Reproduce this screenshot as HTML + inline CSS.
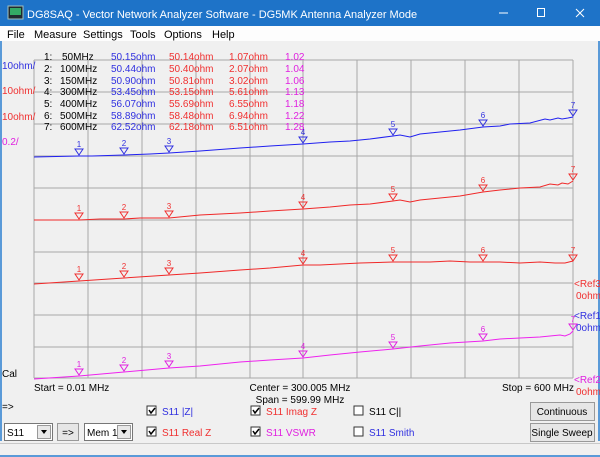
<!DOCTYPE html>
<html><head><meta charset="utf-8"><style>
body{margin:0;width:600px;height:457px;overflow:hidden;background:#f0f0f0;font-family:"Liberation Sans",sans-serif}
svg{display:block}
text{font-family:"Liberation Sans",sans-serif}
</style></head><body>
<svg width="600" height="457" viewBox="0 0 600 457" xmlns="http://www.w3.org/2000/svg">
<rect x="0" y="0" width="600" height="457" fill="#f0f0f0"/>
<!-- title bar -->
<rect x="0" y="0" width="600" height="26" fill="#1e73c8"/>
<rect x="8" y="6" width="15" height="13" fill="#202a30" stroke="#a0c0c0"/>
<rect x="10" y="8" width="11" height="7" fill="#3a6"/>
<text x="27" y="18" font-size="11" fill="#fff">DG8SAQ  -  Vector Network Analyzer Software - DG5MK Antenna Analyzer Mode</text>
<line x1="499" y1="13" x2="508" y2="13" stroke="#fff"/>
<rect x="537.5" y="8.5" width="7" height="8" fill="none" stroke="#fff"/>
<path d="M576 9 L584 17 M584 9 L576 17" stroke="#fff"/>
<!-- menu -->
<rect x="0" y="26" width="600" height="15" fill="#fdfdfd"/>
<g font-size="11" fill="#000">
<text x="7" y="38">File</text><text x="34" y="38">Measure</text><text x="83" y="38">Settings</text><text x="130" y="38">Tools</text><text x="164" y="38">Options</text><text x="212" y="38">Help</text>
</g>
<rect x="0" y="41" width="2" height="400" fill="#5a9ad8"/>
<rect x="598" y="41" width="2" height="400" fill="#5a9ad8"/>
<!-- grid -->
<g stroke="#a8a8a8" stroke-width="1">
<line x1="34" y1="60" x2="573" y2="60"/><line x1="34" y1="92" x2="573" y2="92"/><line x1="34" y1="124" x2="573" y2="124"/><line x1="34" y1="156" x2="573" y2="156"/><line x1="34" y1="188" x2="573" y2="188"/><line x1="34" y1="220" x2="573" y2="220"/><line x1="34" y1="252" x2="573" y2="252"/><line x1="34" y1="283" x2="573" y2="283"/><line x1="34" y1="315" x2="573" y2="315"/><line x1="34" y1="347" x2="573" y2="347"/><line x1="34" y1="378" x2="573" y2="378"/>
<line x1="34" y1="60" x2="34" y2="378"/><line x1="88" y1="60" x2="88" y2="378"/><line x1="142" y1="60" x2="142" y2="378"/><line x1="196" y1="60" x2="196" y2="378"/><line x1="250" y1="60" x2="250" y2="378"/><line x1="303" y1="60" x2="303" y2="378"/><line x1="357" y1="60" x2="357" y2="378"/><line x1="411" y1="60" x2="411" y2="378"/><line x1="465" y1="60" x2="465" y2="378"/><line x1="519" y1="60" x2="519" y2="378"/><line x1="573" y1="60" x2="573" y2="378"/>
</g>
<!-- table -->
<g font-size="10">
<g fill="#000"><text x="44" y="60">1:</text><text x="44" y="72">2:</text><text x="44" y="84">3:</text><text x="44" y="95">4:</text><text x="44" y="107">5:</text><text x="44" y="119">6:</text><text x="44" y="130">7:</text>
<text x="62" y="60">50MHz</text><text x="60" y="72">100MHz</text><text x="60" y="84">150MHz</text><text x="60" y="95">300MHz</text><text x="60" y="107">400MHz</text><text x="60" y="119">500MHz</text><text x="60" y="130">600MHz</text></g>
<g fill="#3030e0"><text x="111" y="60">50.15ohm</text><text x="111" y="72">50.44ohm</text><text x="111" y="84">50.90ohm</text><text x="111" y="95">53.45ohm</text><text x="111" y="107">56.07ohm</text><text x="111" y="119">58.89ohm</text><text x="111" y="130">62.52ohm</text></g>
<g fill="#f03030"><text x="169" y="60">50.14ohm</text><text x="169" y="72">50.40ohm</text><text x="169" y="84">50.81ohm</text><text x="169" y="95">53.15ohm</text><text x="169" y="107">55.69ohm</text><text x="169" y="119">58.48ohm</text><text x="169" y="130">62.18ohm</text>
<text x="229" y="60">1.07ohm</text><text x="229" y="72">2.07ohm</text><text x="229" y="84">3.02ohm</text><text x="229" y="95">5.61ohm</text><text x="229" y="107">6.55ohm</text><text x="229" y="119">6.94ohm</text><text x="229" y="130">6.51ohm</text></g>
<g fill="#e020e0"><text x="285" y="60">1.02</text><text x="285" y="72">1.04</text><text x="285" y="84">1.06</text><text x="285" y="95">1.13</text><text x="285" y="107">1.18</text><text x="285" y="119">1.22</text><text x="285" y="130">1.28</text></g>
</g>
<g font-size="10">
<text x="2" y="69" fill="#3030e0">10ohm/</text>
<text x="2" y="94" fill="#f03030">10ohm/</text>
<text x="2" y="120" fill="#f03030">10ohm/</text>
<text x="2" y="145" fill="#e020e0">0.2/</text>
<text x="2" y="377" fill="#000">Cal</text>
<text x="2" y="410" fill="#000">=&gt;</text>
</g>
<!-- traces -->
<g fill="none" stroke-width="1">
<polyline stroke="#2020f0" points="34,157 79,156 92,156 124,155 150,154 169,153 200,151 240,148 270,146 303,144 330,142 350,141 370,139 393,136 400,135 410,137 420,134 440,132 460,130 483,127 500,126 510,124 530,123 545,119 550,120 558,118 562,119 568,118 573,117"/>
<polyline stroke="#f02828" points="34,220 79,220 100,219 124,219 140,218 169,218 200,215 240,213 270,211 303,209 330,207 350,205 370,204 393,201 400,200 410,202 420,200 440,198 460,196 483,192 500,190 520,188 540,187 550,184 558,185 562,183 568,184 573,181"/>
<polyline stroke="#f02828" points="34,284 79,281 124,278 169,275 200,273 240,270 270,268 303,265 320,265 340,264 360,263 393,262 410,262 430,262 450,261 470,262 483,262 500,262 520,263 540,262 555,263 565,263 573,261"/>
<polyline stroke="#ee22ee" points="34,379 79,376 124,372 169,368 200,366 240,362 270,360 303,358 330,355 360,352 393,349 420,346 450,343 483,341 500,339 520,338 540,337 550,336 560,335 565,336 570,334 573,331"/>
</g>
<!-- markers -->
<g fill="none" stroke-width="1" font-size="8" text-anchor="middle">
<g stroke="#3030e0"><path d="M75,149 h8 l-4,6 z M120,148 h8 l-4,6 z M165,146 h8 l-4,6 z M299,137 h8 l-4,6 z M389,129 h8 l-4,6 z M479,120 h8 l-4,6 z M569,110 h8 l-4,6 z"/></g>
<g fill="#3030e0"><text x="79" y="147">1</text><text x="124" y="146">2</text><text x="169" y="144">3</text><text x="303" y="135">4</text><text x="393" y="127">5</text><text x="483" y="118">6</text><text x="573" y="108">7</text></g>
<g stroke="#f03030"><path d="M75,213 h8 l-4,6 z M120,212 h8 l-4,6 z M165,211 h8 l-4,6 z M299,202 h8 l-4,6 z M389,194 h8 l-4,6 z M479,185 h8 l-4,6 z M569,174 h8 l-4,6 z M75,274 h8 l-4,6 z M120,271 h8 l-4,6 z M165,268 h8 l-4,6 z M299,258 h8 l-4,6 z M389,255 h8 l-4,6 z M479,255 h8 l-4,6 z M569,255 h8 l-4,6 z"/></g>
<g fill="#f03030"><text x="79" y="211">1</text><text x="124" y="210">2</text><text x="169" y="209">3</text><text x="303" y="200">4</text><text x="393" y="192">5</text><text x="483" y="183">6</text><text x="573" y="172">7</text>
<text x="79" y="272">1</text><text x="124" y="269">2</text><text x="169" y="266">3</text><text x="303" y="256">4</text><text x="393" y="253">5</text><text x="483" y="253">6</text><text x="573" y="253">7</text></g>
<g stroke="#e020e0"><path d="M75,369 h8 l-4,6 z M120,365 h8 l-4,6 z M165,361 h8 l-4,6 z M299,351 h8 l-4,6 z M389,342 h8 l-4,6 z M479,334 h8 l-4,6 z M569,324 h8 l-4,6 z"/></g>
<g fill="#e020e0"><text x="79" y="367">1</text><text x="124" y="363">2</text><text x="169" y="359">3</text><text x="303" y="349">4</text><text x="393" y="340">5</text><text x="483" y="332">6</text><text x="573" y="322">7</text></g>
</g>
<!-- right labels -->
<g font-size="10">
<text x="574" y="287" fill="#f03030">&lt;Ref3</text><text x="576" y="299" fill="#f03030">0ohm</text>
<text x="574" y="319" fill="#3030e0">&lt;Ref1</text><text x="576" y="331" fill="#3030e0">0ohm</text>
<text x="574" y="383" fill="#e020e0">&lt;Ref2</text><text x="576" y="395" fill="#f03030">0ohm</text>
</g>
<g font-size="10" fill="#000">
<text x="34" y="391">Start = 0.01 MHz</text>
<text x="300" y="391" text-anchor="middle">Center = 300.005 MHz</text>
<text x="300" y="403" text-anchor="middle">Span = 599.99 MHz</text>
<text x="574" y="391" text-anchor="end">Stop = 600 MHz</text>
</g>
<!-- checkboxes -->
<g font-size="10">
<g fill="#fff" stroke="#333"><rect x="147" y="406" width="9" height="9"/><rect x="147" y="427" width="9" height="9"/><rect x="251" y="406" width="9" height="9"/><rect x="251" y="427" width="9" height="9"/><rect x="354" y="406" width="9" height="9"/><rect x="354" y="427" width="9" height="9"/></g>
<g stroke="#000" stroke-width="1.5" fill="none"><path d="M149,410 l2,3 l4,-5 M149,431 l2,3 l4,-5 M253,410 l2,3 l4,-5 M253,431 l2,3 l4,-5"/></g>
<text x="162" y="415" fill="#3030e0">S11  |Z|</text>
<text x="162" y="436" fill="#f03030">S11  Real Z</text>
<text x="266" y="415" fill="#f03030">S11  Imag Z</text>
<text x="266" y="436" fill="#e020e0">S11  VSWR</text>
<text x="369" y="415" fill="#000">S11  C||</text>
<text x="369" y="436" fill="#3030e0">S11  Smith</text>
</g>
<!-- combos -->
<g font-size="10">
<rect x="4.5" y="423.5" width="48" height="17" fill="#fff" stroke="#777"/><rect x="37.5" y="425.5" width="13" height="13" fill="#e8e8e8" stroke="#999"/><path d="M41,430 h6 l-3,4 z" fill="#000"/><text x="7" y="436">S11</text>
<rect x="57.5" y="423.5" width="21" height="17" fill="#e6e6e6" stroke="#999"/><text x="68" y="436" text-anchor="middle">=&gt;</text>
<rect x="84.5" y="423.5" width="48" height="17" fill="#fff" stroke="#777"/><rect x="117.5" y="425.5" width="13" height="13" fill="#e8e8e8" stroke="#999"/><path d="M121,430 h6 l-3,4 z" fill="#000"/><text x="87" y="436">Mem 1</text>
<rect x="530.5" y="402.5" width="64" height="18" fill="#e6e6e6" stroke="#999"/><text x="562" y="415" text-anchor="middle">Continuous</text>
<rect x="530.5" y="423.5" width="64" height="18" fill="#e6e6e6" stroke="#999"/><text x="562" y="436" text-anchor="middle">Single Sweep</text>
</g>
<line x1="0" y1="443.5" x2="600" y2="443.5" stroke="#c8c8c8"/>
<rect x="0" y="455" width="600" height="2" fill="#5a9ad8"/>
</svg>
</body></html>
